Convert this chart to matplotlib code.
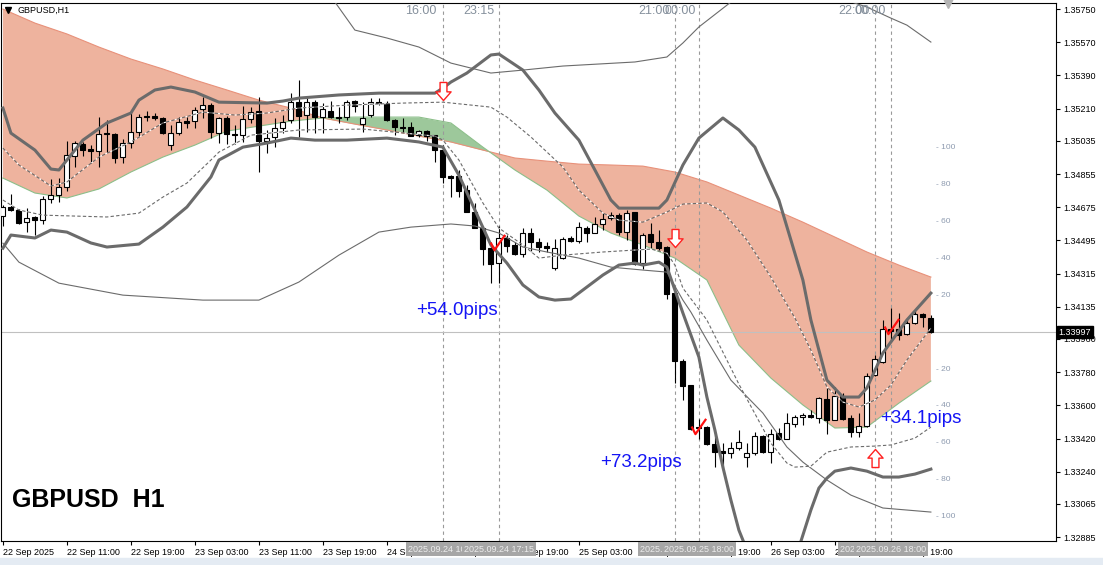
import numpy as np
import matplotlib
matplotlib.use('Agg')
import matplotlib.pyplot as plt
from matplotlib.path import Path
from matplotlib.patches import Rectangle
from matplotlib.transforms import blended_transform_factory

plt.rcParams['font.family'] = ['Liberation Sans', 'DejaVu Sans']

# H1 candles, bar 0 = 22 Sep 03:00
opens = [1.34627, 1.34676, 1.34660, 1.34594, 1.34622, 1.34605, 1.34719, 1.34741, 1.34784, 1.34953,
         1.35018, 1.34990, 1.34980, 1.35077, 1.35072, 1.34947, 1.35023, 1.35083, 1.35170, 1.35170,
         1.35159, 1.35012, 1.35077, 1.35142, 1.35142, 1.35208, 1.35229, 1.35077, 1.35159, 1.35072,
         1.35066, 1.35153, 1.35197, 1.35034, 1.35056, 1.35105, 1.35148, 1.35245, 1.35175, 1.35245,
         1.35164, 1.35197, 1.35164, 1.35164, 1.35251, 1.35126, 1.35175, 1.35245, 1.35240, 1.35148,
         1.35110, 1.35110, 1.35066, 1.35088, 1.35066, 1.34985, 1.34844, 1.34844, 1.34768, 1.34649,
         1.34562, 1.34453, 1.34372, 1.34508, 1.34470, 1.34421, 1.34535, 1.34486, 1.34464, 1.34345,
         1.34399, 1.34508, 1.34491, 1.34562, 1.34535, 1.34584, 1.34616, 1.34632, 1.34540, 1.34649,
         1.34372, 1.34529, 1.34486, 1.34459, 1.34209, 1.33840, 1.33710, 1.33482, 1.33482, 1.33390,
         1.33352, 1.33341, 1.33368, 1.33319, 1.33341, 1.33433, 1.33346, 1.33449, 1.33417, 1.33498,
         1.33536, 1.33547, 1.33531, 1.33634, 1.33520, 1.33650, 1.33531, 1.33455, 1.33488, 1.33764,
         1.33835, 1.34014, 1.34014, 1.33987, 1.34046, 1.34095, 1.34074]
highs = [1.34687, 1.34746, 1.34665, 1.34670, 1.34627, 1.34736, 1.34828, 1.34833, 1.35034, 1.35034,
         1.35029, 1.35012, 1.35164, 1.35148, 1.35077, 1.35045, 1.35186, 1.35180, 1.35197, 1.35186,
         1.35164, 1.35121, 1.35164, 1.35164, 1.35218, 1.35273, 1.35240, 1.35164, 1.35170, 1.35121,
         1.35224, 1.35218, 1.35273, 1.35094, 1.35159, 1.35175, 1.35294, 1.35365, 1.35267, 1.35256,
         1.35240, 1.35251, 1.35218, 1.35256, 1.35256, 1.35245, 1.35267, 1.35267, 1.35251, 1.35153,
         1.35159, 1.35137, 1.35094, 1.35094, 1.35066, 1.35012, 1.34849, 1.34877, 1.34795, 1.34698,
         1.34573, 1.34481, 1.34573, 1.34524, 1.34486, 1.34562, 1.34562, 1.34508, 1.34486, 1.34502,
         1.34513, 1.34519, 1.34594, 1.34573, 1.34622, 1.34643, 1.34649, 1.34643, 1.34660, 1.34649,
         1.34535, 1.34589, 1.34551, 1.34464, 1.34220, 1.33851, 1.33710, 1.33526, 1.33488, 1.33439,
         1.33395, 1.33401, 1.33466, 1.33395, 1.33455, 1.33439, 1.33471, 1.33477, 1.33558, 1.33547,
         1.33558, 1.33574, 1.33645, 1.33694, 1.33699, 1.33667, 1.33547, 1.33558, 1.33775, 1.33873,
         1.34063, 1.34128, 1.34101, 1.34074, 1.34117, 1.34101, 1.34090]
lows = [1.34573, 1.34654, 1.34584, 1.34540, 1.34524, 1.34584, 1.34698, 1.34703, 1.34763, 1.34893,
        1.34953, 1.34915, 1.34893, 1.34974, 1.34915, 1.34915, 1.34996, 1.35061, 1.35142, 1.35148,
        1.35072, 1.34985, 1.35066, 1.35105, 1.35105, 1.35159, 1.35050, 1.35023, 1.35018, 1.35018,
        1.35029, 1.35132, 1.34866, 1.34969, 1.35001, 1.35077, 1.35132, 1.35056, 1.35083, 1.35077,
        1.35077, 1.35159, 1.35132, 1.35148, 1.35191, 1.35083, 1.35164, 1.35229, 1.35142, 1.35066,
        1.35083, 1.35061, 1.35056, 1.35034, 1.34920, 1.34806, 1.34730, 1.34730, 1.34649, 1.34562,
        1.34361, 1.34263, 1.34263, 1.34432, 1.34415, 1.34405, 1.34432, 1.34432, 1.34432, 1.34334,
        1.34394, 1.34486, 1.34481, 1.34486, 1.34535, 1.34551, 1.34605, 1.34524, 1.34497, 1.34361,
        1.34339, 1.34453, 1.34443, 1.34177, 1.33721, 1.33629, 1.33466, 1.33417, 1.33385, 1.33265,
        1.33249, 1.33314, 1.33357, 1.33265, 1.33330, 1.33341, 1.33287, 1.33412, 1.33417, 1.33482,
        1.33493, 1.33531, 1.33504, 1.33444, 1.33520, 1.33520, 1.33428, 1.33428, 1.33482, 1.33759,
        1.33829, 1.33954, 1.33954, 1.33981, 1.34041, 1.34025, 1.33990]
closes = [1.34676, 1.34660, 1.34589, 1.34616, 1.34605, 1.34719, 1.34741, 1.34784, 1.34958, 1.35023,
          1.34985, 1.34980, 1.35072, 1.35072, 1.34942, 1.35023, 1.35083, 1.35164, 1.35164, 1.35159,
          1.35077, 1.35077, 1.35137, 1.35132, 1.35202, 1.35229, 1.35083, 1.35159, 1.35072, 1.35066,
          1.35153, 1.35191, 1.35034, 1.35050, 1.35105, 1.35137, 1.35245, 1.35170, 1.35245, 1.35164,
          1.35208, 1.35164, 1.35159, 1.35245, 1.35224, 1.35159, 1.35245, 1.35240, 1.35148, 1.35110,
          1.35105, 1.35061, 1.35088, 1.35061, 1.34985, 1.34839, 1.34833, 1.34763, 1.34649, 1.34562,
          1.34448, 1.34367, 1.34508, 1.34464, 1.34421, 1.34535, 1.34486, 1.34459, 1.34453, 1.34453,
          1.34502, 1.34491, 1.34567, 1.34535, 1.34584, 1.34611, 1.34632, 1.34540, 1.34643, 1.34367,
          1.34524, 1.34486, 1.34453, 1.34204, 1.33840, 1.33705, 1.33471, 1.33477, 1.33390, 1.33346,
          1.33341, 1.33368, 1.33401, 1.33341, 1.33433, 1.33346, 1.33444, 1.33417, 1.33504, 1.33536,
          1.33547, 1.33536, 1.33640, 1.33520, 1.33650, 1.33526, 1.33455, 1.33488, 1.33759, 1.33851,
          1.34014, 1.34003, 1.33981, 1.34046, 1.34095, 1.34079, 1.33997]

# cloud lines, every 4th bar
cloud_bars = list(range(0, 117, 4))
cloud_orange = [1.35750, 1.35674, 1.35615, 1.35544, 1.35479, 1.35425, 1.35365, 1.35311, 1.35256, 1.35213,
                1.35159, 1.35126, 1.35094, 1.35061, 1.35029, 1.34985, 1.34942, 1.34925, 1.34909, 1.34904,
                1.34898, 1.34866, 1.34812, 1.34741, 1.34670, 1.34594, 1.34513, 1.34432, 1.34361, 1.34296]
cloud_green = [1.34833, 1.34752, 1.34725, 1.34774, 1.34866, 1.34947, 1.35012, 1.35088, 1.35115, 1.35142,
               1.35159, 1.35164, 1.35164, 1.35164, 1.35132, 1.35001, 1.34877, 1.34768, 1.34627, 1.34535,
               1.34470, 1.34399, 1.34280, 1.33927, 1.33748, 1.33602, 1.33477, 1.33482, 1.33612, 1.33732]

# thick bands
up_bars = [0, 1, 4, 6, 7, 8, 10, 13, 16, 17, 19, 21, 24, 27, 33, 35, 37, 42, 47, 54,
           55, 56, 58, 61, 62, 65, 67, 69, 72, 74, 76, 77, 82, 83, 85, 87, 90, 92, 94, 97,
           100, 101, 103, 105, 107, 108, 110, 113, 116]
up_band = [1.35213, 1.35077, 1.34985, 1.34882, 1.34877, 1.34931, 1.35039, 1.35132, 1.35186, 1.35256,
           1.35311, 1.35327, 1.35300, 1.35245, 1.35240, 1.35251, 1.35267, 1.35284, 1.35294, 1.35294,
           1.35321, 1.35354, 1.35403, 1.35501, 1.35506, 1.35419, 1.35311, 1.35186, 1.35039, 1.34877,
           1.34714, 1.34670, 1.34670, 1.34714, 1.34904, 1.35050, 1.35159, 1.35094, 1.35001, 1.34714,
           1.34280, 1.34063, 1.33737, 1.33645, 1.33645, 1.33694, 1.33884, 1.34063, 1.34209]
lo_bars = [0, 1, 4, 6, 8, 11, 13, 17, 20, 23, 26, 27, 30, 33, 36, 39, 43, 48, 52, 55,
           57, 59, 61, 63, 65, 67, 69, 71, 73, 75, 77, 79, 80, 82, 83, 84, 85, 87, 88, 89,
           90, 91, 92, 93, 95, 97, 99, 100, 101, 102, 103, 104, 106, 108, 110, 112, 114, 116]
lo_band = [1.34453, 1.34524, 1.34508, 1.34551, 1.34540, 1.34481, 1.34459, 1.34475, 1.34567, 1.34676,
           1.34839, 1.34931, 1.35001, 1.35023, 1.35050, 1.35039, 1.35039, 1.35050, 1.35029, 1.35001,
           1.34849, 1.34660, 1.34470, 1.34372, 1.34253, 1.34188, 1.34171, 1.34177, 1.34242, 1.34307,
           1.34361, 1.34372, 1.34361, 1.34377, 1.34350, 1.34226, 1.34101, 1.33862, 1.33645, 1.33466,
           1.33265, 1.33086, 1.32923, 1.32815, 1.32733, 1.32679, 1.32760, 1.32896, 1.33032, 1.33151,
           1.33205, 1.33243, 1.33260, 1.33243, 1.33211, 1.33211, 1.33227, 1.33254]

# thin outer bands
thin_up_bars = [40, 44, 48, 52, 56, 61, 65, 70, 79, 83, 85, 87, 91, 95, 100, 105, 108, 111, 113, 116]
thin_up = [1.35880, 1.35636, 1.35593, 1.35544, 1.35457, 1.35403, 1.35419, 1.35441, 1.35463, 1.35490,
           1.35566, 1.35653, 1.35788, 1.35880, 1.35897, 1.35804, 1.35761, 1.35701, 1.35663, 1.35571]
thin_lo_bars = [0, 2, 7, 15, 25, 32, 37, 42, 47, 51, 56, 59, 62, 65, 68, 72, 76, 80, 83, 85,
                86, 88, 91, 95, 98, 100, 103, 106, 110, 116]
thin_lo = [1.34480, 1.34377, 1.34263, 1.34198, 1.34171, 1.34171, 1.34269, 1.34415, 1.34540, 1.34567,
           1.34584, 1.34573, 1.34535, 1.34459, 1.34432, 1.34399, 1.34350, 1.34334, 1.34323, 1.34171,
           1.34106, 1.33954, 1.33737, 1.33558, 1.33374, 1.33292, 1.33195, 1.33113, 1.33043, 1.33021]

# dashed middle lines
mid_up_bars = [0, 2, 6, 8, 12, 16, 20, 25, 29, 33, 37, 43, 50, 55, 61, 63, 66, 70, 72, 75,
               77, 80, 83, 85, 88, 90, 93, 96, 99, 101, 103, 105, 107, 109, 111, 113, 116]
mid_up = [1.34996, 1.34904, 1.34790, 1.34812, 1.34947, 1.35029, 1.35132, 1.35191, 1.35175, 1.35186,
          1.35213, 1.35229, 1.35240, 1.35245, 1.35218, 1.35164, 1.35056, 1.34893, 1.34768, 1.34643,
          1.34605, 1.34594, 1.34649, 1.34692, 1.34698, 1.34649, 1.34497, 1.34296, 1.34074, 1.33900,
          1.33700, 1.33618, 1.33591, 1.33629, 1.33710, 1.33846, 1.34019]
mid_lo_bars = [0, 2, 5, 13, 17, 20, 23, 26, 27, 31, 37, 45, 54, 55, 57, 60, 62, 65, 67, 70,
               75, 81, 83, 84, 85, 88, 92, 96, 98, 99, 101, 103, 106, 109, 111, 114, 116]
mid_lo = [1.34714, 1.34660, 1.34632, 1.34622, 1.34643, 1.34730, 1.34806, 1.34931, 1.34974, 1.35066,
          1.35094, 1.35099, 1.35061, 1.35039, 1.34931, 1.34698, 1.34562, 1.34470, 1.34399, 1.34415,
          1.34432, 1.34448, 1.34426, 1.34361, 1.34236, 1.34063, 1.33715, 1.33395, 1.33287, 1.33265,
          1.33270, 1.33346, 1.33374, 1.33379, 1.33385, 1.33422, 1.33482]

# signals
sell_bars = [55, 84]
sell_prices = [1.35305, 1.34508]
buy_bars = [109]
buy_prices = [1.33314]
check_bars = [61.8, 86.9, 111.0]
check_prices = [1.34486, 1.33488, 1.34030]
pip_texts = ['+54.0pips', '+73.2pips', '+34.1pips']
pip_bars = [51.6, 74.6, 109.6]
pip_prices = [1.34117, 1.33292, 1.33531]

vline_bars = [55, 62, 84, 87, 109, 111]
vline_top = ['16:00', '23:15', '21:00', '00:00', '22:00', '00:00']
vline_bottom = ['2025.09.24 10:00', '2025.09.24 17:15', '2025.09.25 15:00',
                '2025.09.25 18:00', '2025.09.26 16:00', '2025.09.26 18:00']

ytick_labels = ['1.35750', '1.35570', '1.35390', '1.35210', '1.35035', '1.34855', '1.34675', '1.34495',
                '1.34315', '1.34135', '1.33960', '1.33780', '1.33600', '1.33420', '1.33240', '1.33065',
                '1.32885']
xtick_labels = ['22 Sep 2025', '22 Sep 11:00', '22 Sep 19:00', '23 Sep 03:00', '23 Sep 11:00',
                '23 Sep 19:00', '24 Sep 03:00', '24 Sep 11:00', '24 Sep 19:00', '25 Sep 03:00',
                '25 Sep 11:00', '25 Sep 19:00', '26 Sep 03:00', '26 Sep 11:00', '26 Sep 19:00']
ruler_steps = [100, 80, 60, 40, 20, -20, -40, -60, -80, -100]

fig = plt.figure(figsize=(11.03, 5.65), dpi=100)
ax = fig.add_axes([1 / 1103, 24 / 565, 1055 / 1103, 538 / 565])
ax.set_xlim(-0.24, 131.64)
ax.set_ylim(1.32864, 1.35783)

# cloud
cb = np.array(cloud_bars)
co = np.array(cloud_orange)
cg = np.array(cloud_green)
ax.fill_between(cb, co, cg, where=co >= cg, interpolate=True, color='#eeb39e', lw=0, zorder=1)
ax.fill_between(cb, co, cg, where=cg > co, interpolate=True, color='#9dc89b', lw=0, zorder=1)
ax.plot(cb, co, color='#e8917a', lw=0.8, zorder=1.2)
ax.plot(cb, cg, color='#8cbf8a', lw=0.8, zorder=1.2)

# vertical markers and current price
for b in vline_bars:
    ax.axvline(b, color='#9a9a9a', lw=0.8, ls=(0, (3, 3)), zorder=1.5)
ax.axhline(closes[-1], color='#c0c0c0', lw=0.8, zorder=1.5)

# candles
x = np.arange(len(closes))
o = np.array(opens)
h = np.array(highs)
l = np.array(lows)
c = np.array(closes)
bull = c >= o
lo_body = np.minimum(o, c)
body = np.maximum(np.abs(c - o), 0.00003)
ax.vlines(x, l, h, color='black', lw=0.8, zorder=3)
ax.bar(x[bull], body[bull], bottom=lo_body[bull], width=0.62, color='white',
       edgecolor='black', lw=0.8, zorder=3.5)
ax.bar(x[~bull], body[~bull], bottom=lo_body[~bull], width=0.62, color='black',
       edgecolor='black', lw=0.8, zorder=3.5)

# band lines
grey = '#6b6b6b'
ax.plot(up_bars, up_band, color=grey, lw=2.2, zorder=4)
ax.plot(lo_bars, lo_band, color=grey, lw=2.2, zorder=4)
ax.plot(thin_up_bars, thin_up, color=grey, lw=0.8, zorder=4)
ax.plot(thin_lo_bars, thin_lo, color=grey, lw=0.8, zorder=4)
ax.plot(mid_up_bars, mid_up, color=grey, lw=0.8, ls=(0, (3, 2)), gapcolor='white', zorder=4)
ax.plot(mid_lo_bars, mid_lo, color=grey, lw=0.8, ls=(0, (3, 2)), gapcolor='white', zorder=4)

# arrows
down_arrow = Path([(-0.19, 0.5), (0.19, 0.5), (0.19, -0.02), (0.42, -0.02), (0, -0.5),
                   (-0.42, -0.02), (-0.19, -0.02), (-0.19, 0.5)],
                  [Path.MOVETO] + [Path.LINETO] * 6 + [Path.CLOSEPOLY])
up_arrow = Path([(px, -py) for px, py in down_arrow.vertices], down_arrow.codes)
ax.plot(sell_bars, sell_prices, ls='none', marker=down_arrow, ms=13, mfc='white',
        mec='#ff2020', mew=1.0, zorder=6)
ax.plot(buy_bars, buy_prices, ls='none', marker=up_arrow, ms=13, mfc='white',
        mec='#ff2020', mew=1.0, zorder=6)
check = Path([(-0.45, 0.0), (-0.2, -0.5), (0.5, 0.5)], [Path.MOVETO, Path.LINETO, Path.LINETO])
ax.plot(check_bars, check_prices, ls='none', marker=check, ms=11, mfc='none',
        mec='#ff1010', mew=1.6, zorder=6)

for t, b, p in zip(pip_texts, pip_bars, pip_prices):
    ax.text(b, p, t, color='#1414f5', fontsize=13.5, ha='left', va='center', zorder=7)

# pip ruler on the right
for s in ruler_steps:
    ax.text(116.6, closes[-1] + s * 0.0001, '- %d' % abs(s), color='#8e9bb0',
            fontsize=6, ha='left', va='center', zorder=2)

# top time labels for vertical lines
tr_top = blended_transform_factory(ax.transData, ax.transAxes)
top_shift = [0.75, 0.6, 0.6, 0.35, 0.6, 0.6]
for b, t, s in zip(vline_bars, vline_top, top_shift):
    ax.text(b - s, 0.985, t, transform=tr_top, color='#85909c', fontsize=9,
            ha='right', va='center', zorder=7)

# axes styling
for sp in ax.spines.values():
    sp.set_color('black')
    sp.set_linewidth(0.8)
ax.yaxis.tick_right()
ax.set_yticks([float(v) for v in ytick_labels])
ax.set_yticklabels(ytick_labels)
ax.set_xticks(list(range(0, 113, 8)))
ax.set_xticklabels(xtick_labels)
for lbl in ax.get_xticklabels():
    lbl.set_horizontalalignment('left')
ax.tick_params(axis='y', length=3, width=0.8, pad=2, labelsize=6.5, direction='out')
ax.tick_params(axis='x', length=3, width=0.8, pad=2, labelsize=6.5, direction='out')

# current price tag
ax.text(1.0025, closes[-1], '%.5f' % closes[-1], transform=blended_transform_factory(ax.transAxes, ax.transData),
        color='white', fontsize=6.5, ha='left', va='center', zorder=8, clip_on=False,
        bbox=dict(boxstyle='square,pad=0.2', fc='black', ec='black'))

# grey time boxes on the time axis
for b, t in zip(vline_bars, vline_bottom):
    ax.text(b, -0.0149, t, transform=tr_top, color='#ececec', fontsize=6.5, ha='center',
            va='center', zorder=9, clip_on=False,
            bbox=dict(boxstyle='square,pad=0.25', fc='#a6a6a6', ec='none'))

# labels
ax.plot(0.0062, 0.987, marker='v', color='black', ms=4, transform=ax.transAxes, zorder=8)
ax.text(0.0152, 0.987, 'GBPUSD,H1', transform=ax.transAxes, fontsize=6.5, va='center',
        ha='left', zorder=8)
ax.text(0.0104, 0.076, 'GBPUSD  H1', transform=ax.transAxes, fontsize=18, fontweight='bold',
        va='center', ha='left', zorder=8)
ax.plot(118.1, 1.0, marker='v', color='#b4b4b4', ms=7, transform=tr_top, clip_on=False, zorder=8)

fig.patches.append(Rectangle((0, 0), 1, 7 / 565, transform=fig.transFigure,
                             color='#e4ebf3', zorder=0))

fig.savefig('out.png', dpi=100)
